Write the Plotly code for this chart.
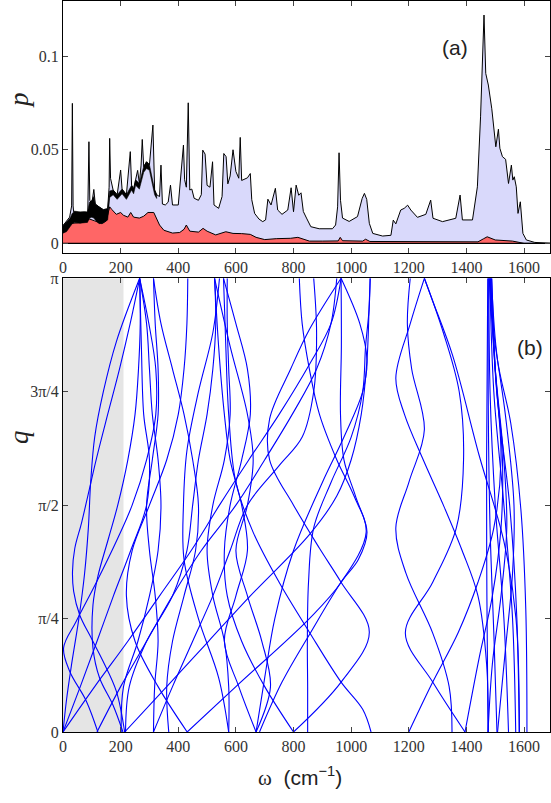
import plotly.graph_objects as go

# ---------------- panel (a): spectrum p(omega) ----------------
w_total = [0, 11, 23, 30, 32.5, 35, 37, 55, 75, 86, 90, 93, 100, 107, 112, 125, 140, 155, 160, 162, 165,
           174, 188, 200, 205, 220, 233.5, 238, 245, 252, 259, 265, 271, 275, 280, 290, 300, 312, 318,
           325, 335, 340, 345, 355, 365, 373, 380, 400, 418, 422, 428, 434.6, 440, 447, 455, 470, 480,
           485, 493, 500, 510, 519, 524, 540, 552, 558, 566, 572, 580, 590, 600, 610, 615, 620, 630,
           640, 650, 655, 665, 680, 693, 703, 711, 722, 737, 745, 760, 780, 791.6, 800, 809, 818,
           826, 834, 845, 860, 889, 935, 946, 953, 958, 963, 970, 993, 1022, 1038, 1046, 1054,
           1063, 1075, 1109, 1138, 1146, 1155, 1172, 1184, 1196, 1207, 1230, 1259, 1276, 1284,
           1317, 1363, 1378, 1386, 1421, 1438, 1449, 1461, 1467, 1476, 1488, 1502, 1511, 1516,
           1525, 1536, 1546, 1556, 1561, 1566, 1573, 1579, 1587, 1596, 1608, 1637, 1690]
p_total = [0.0095, 0.0115, 0.014, 0.02, 0.0748, 0.02, 0.0168, 0.0165, 0.0168, 0.0165, 0.0543, 0.023,
           0.021, 0.0288, 0.021, 0.0195, 0.018, 0.0185, 0.03, 0.0561, 0.0347, 0.0285, 0.026, 0.0392,
           0.029, 0.026, 0.049, 0.0311, 0.029, 0.034, 0.039, 0.032, 0.0418, 0.0555, 0.041, 0.0436,
           0.042, 0.0632, 0.0285, 0.026, 0.025, 0.0418, 0.021, 0.0205, 0.022, 0.0311, 0.0205, 0.0205,
           0.0525, 0.034, 0.03, 0.0751, 0.0285, 0.029, 0.0241, 0.023, 0.026, 0.0498, 0.0477, 0.031,
           0.03, 0.0436, 0.0205, 0.0187, 0.025, 0.048, 0.0463, 0.0318, 0.036, 0.05, 0.0384, 0.0348,
           0.0566, 0.0336, 0.0345, 0.035, 0.0373, 0.0233, 0.016, 0.013, 0.0116, 0.0125, 0.0236,
           0.0205, 0.0294, 0.0178, 0.0155, 0.0178, 0.0297, 0.0169, 0.0311, 0.0257, 0.027, 0.017,
           0.0135, 0.0089, 0.0078, 0.0078, 0.0098, 0.0195, 0.0484, 0.023, 0.0135, 0.0117, 0.0143,
           0.0239, 0.0267, 0.0235, 0.0107, 0.0053, 0.0039, 0.0043, 0.0124, 0.0104, 0.0178, 0.0187,
           0.0204, 0.0178, 0.0139, 0.0155, 0.0231, 0.0134, 0.0116, 0.0134, 0.0258, 0.0125, 0.0125,
           0.0302, 0.0676, 0.122, 0.0908, 0.0846, 0.0719, 0.0516, 0.061, 0.0508, 0.0463, 0.0449,
           0.032, 0.0418, 0.0338, 0.0356, 0.0302, 0.016, 0.0222, 0.0053, 0.0018, 0.0005, 0.0]

# envelope of the rapidly oscillating (black) band at low frequency
w_band = [0, 12, 25, 32, 40, 60, 85, 92, 100, 107, 112, 125, 140, 155, 162, 174, 188, 205, 220,
          238, 245, 252, 265, 280, 290, 300, 318, 325]
p_band_hi = [0.0095, 0.0115, 0.0135, 0.016, 0.0172, 0.0168, 0.0168, 0.022, 0.023, 0.025, 0.021,
             0.0195, 0.018, 0.0185, 0.028, 0.0285, 0.026, 0.029, 0.026, 0.031, 0.029, 0.034, 0.032,
             0.041, 0.0436, 0.042, 0.0285, 0.026]
p_band_lo = [0.0055, 0.0062, 0.009, 0.0105, 0.0112, 0.0108, 0.0112, 0.0135, 0.014, 0.0135, 0.0125,
             0.0105, 0.011, 0.0125, 0.0245, 0.026, 0.0235, 0.0265, 0.0235, 0.0285, 0.0265, 0.031,
             0.029, 0.038, 0.040, 0.039, 0.026, 0.024]

w_red = [0, 28, 60, 92, 110, 135, 150, 162, 170, 185, 200, 210, 225, 235, 245, 265, 280, 295,
         315, 325, 335, 350, 380, 405, 420, 428, 440, 470, 486, 500, 530, 565, 590, 620, 650,
         670, 700, 740, 790, 815, 855, 900, 955, 962, 970, 1040, 1050, 1065, 1200, 1280, 1440,
         1460, 1472, 1500, 1560, 1600, 1690]
p_red = [0.0053, 0.0107, 0.011, 0.013, 0.012, 0.0105, 0.012, 0.0195, 0.018, 0.0155, 0.0165, 0.015,
         0.014, 0.0165, 0.014, 0.0135, 0.0145, 0.0165, 0.0165, 0.013, 0.0098, 0.007, 0.0055, 0.0058,
         0.0075, 0.0098, 0.0065, 0.006, 0.008, 0.0065, 0.0045, 0.0062, 0.0053, 0.0052, 0.0048,
         0.0032, 0.002, 0.0025, 0.0027, 0.0032, 0.0012, 0.0012, 0.0013, 0.0032, 0.0014, 0.0012,
         0.0022, 0.001, 0.0008, 0.0008, 0.0008, 0.0025, 0.0035, 0.0018, 0.0012, 0.0, 0.0]

p_ticks = [0, 0.05, 0.1]
p_ticklabels = ["0", "0.05", "0.1"]
w_ticks = [0, 200, 400, 600, 800, 1000, 1200, 1400, 1600]

# ---------------- panel (b): dispersion branches, (q/pi, omega) knots ----------------
branches = [
    # right cluster
    [(0, 1475), (0.3, 1471), (0.6, 1470), (1, 1474)],
    [(0, 1506), (0.2, 1496), (0.45, 1482), (0.7, 1476), (1, 1476)],
    [(0, 1546), (0.25, 1530), (0.5, 1500), (0.75, 1482), (1, 1478)],
    [(0, 1571), (0.25, 1560), (0.5, 1530), (0.75, 1495), (1, 1481)],
    [(0, 1583), (0.25, 1575), (0.5, 1550), (0.75, 1505), (1, 1484)],
    [(0, 1610), (0.27, 1606), (0.49, 1589), (0.68, 1554), (0.82, 1508), (1, 1487)],
    [(0, 1508), (0.18, 1535), (0.35, 1560), (0.5, 1565), (0.7, 1535), (0.88, 1495), (1, 1482)],
    [(0, 1475), (0.15, 1490), (0.3, 1520), (0.45, 1540), (0.6, 1530), (0.8, 1500), (1, 1479)],
    # 1150-1450 group
    [(0, 1200), (0.11, 1283), (0.22, 1372), (0.33, 1440), (0.45, 1495), (0.6, 1520), (0.8, 1500), (1, 1488)],
    [(0, 1395), (0.11, 1283), (0.218, 1188), (0.33, 1283), (0.45, 1365), (0.6, 1390), (0.75, 1375), (0.88, 1320), (1, 1254)],
    [(0, 1395), (0.163, 1444), (0.3, 1490), (0.45, 1520), (0.6, 1525), (0.8, 1500), (1, 1484)],
    [(1, 1254), (0.95, 1283), (0.83, 1352), (0.61, 1444), (0.42, 1530), (0.25, 1572), (0, 1584)],
    [(1, 1254), (0.9, 1205), (0.78, 1155), (0.7, 1185), (0.6, 1250), (0.5, 1320), (0.4, 1385), (0.3, 1440), (0.15, 1470), (0, 1476)],
    [(1, 1205), (0.9, 1195), (0.8, 1210), (0.666, 1254), (0.552, 1201), (0.45, 1155), (0.35, 1190), (0.218, 1283), (0.1, 1340), (0, 1350)],
    # 950-1070 group
    [(1, 965), (0.85, 966), (0.7, 963), (0.6, 975), (0.52, 1015), (0.44, 1055), (0.38, 1025), (0.33, 965), (0.22, 860), (0.11, 760), (0, 682)],
    [(0, 1069), (0.05, 1040), (0.11, 965), (0.22, 855), (0.33, 750), (0.44, 660), (0.55, 600), (0.7, 575), (0.85, 565), (1, 557)],
    [(0, 800), (0.11, 965), (0.22, 1063), (0.33, 965), (0.405, 890), (0.5, 800), (0.6, 717), (0.69, 717), (0.8, 790), (0.887, 855), (1, 965)],
    [(1, 1066), (0.93, 1062), (0.85, 1050), (0.75, 1040), (0.65, 1000), (0.55, 930), (0.45, 870), (0.33, 852), (0.2, 848), (0.1, 849), (0, 849)],
    [(1, 965), (0.9, 1030), (0.82, 1055), (0.75, 1040), (0.65, 975), (0.55, 900), (0.4, 800), (0.25, 735), (0.12, 700), (0, 670)],
    # long diagonals through the middle
    [(0, 214), (0.1, 360), (0.2, 505), (0.3, 650), (0.435, 855), (0.52, 950), (0.6, 1000), (0.7, 1035), (0.82, 1055), (0.93, 1062), (1, 1066)],
    [(0, 431), (0.1, 600), (0.25, 855), (0.33, 965), (0.44, 1052), (0.52, 1010), (0.6, 950), (0.7, 890), (0.8, 855), (0.9, 830), (1, 820)],
    [(0, 0), (0.1, 110), (0.2, 225), (0.3, 335), (0.4, 445), (0.5, 543), (0.6, 645), (0.7, 750), (0.81, 855), (0.9, 930), (1, 965)],
    [(0, 118), (0.1, 200), (0.2, 290), (0.3, 380), (0.4, 480), (0.5, 600), (0.6, 700), (0.705, 800), (0.8, 880), (0.9, 930), (1, 950)],
    [(0, 314), (0.1, 380), (0.2, 450), (0.3, 520), (0.4, 580), (0.5, 640), (0.587, 750), (0.65, 830), (0.75, 870), (0.88, 880), (1, 870)],
    # left region
    [(0, 214), (0.09, 185), (0.156, 139), (0.207, 98), (0.258, 58), (0.31, 37), (0.354, 33), (0.405, 41),
     (0.46, 64), (0.52, 86), (0.6, 115), (0.7, 155), (0.8, 196), (0.9, 233), (1, 266)],
    [(0, 0), (0.07, 12), (0.15, 30), (0.25, 55), (0.35, 75), (0.45, 88), (0.55, 96), (0.65, 110),
     (0.75, 140), (0.86, 185), (1, 266)],
    [(0, 121), (0.068, 81), (0.134, 23), (0.185, 2), (0.244, 46), (0.33, 116), (0.427, 190), (0.5, 240),
     (0.6, 290), (0.7, 322), (0.8, 322), (0.9, 298), (1, 266)],
    [(0, 208), (0.06, 173), (0.119, 127), (0.185, 104), (0.28, 104), (0.343, 121), (0.427, 158), (0.5, 190),
     (0.6, 225), (0.7, 250), (0.8, 262), (0.9, 268), (1, 266)],
    [(0, 0), (0.1, 60), (0.2, 118), (0.3, 175), (0.4, 235), (0.5, 290), (0.6, 300), (0.7, 280), (0.85, 272), (1, 266)],
    [(0, 431), (0.1, 330), (0.2, 250), (0.3, 220), (0.4, 240), (0.5, 300), (0.6, 360), (0.7, 400), (0.8, 420), (0.9, 430), (1, 433)],
    [(0, 314), (0.1, 318), (0.2, 330), (0.3, 320), (0.4, 300), (0.5, 290), (0.6, 310), (0.7, 330), (0.8, 330), (0.9, 320), (1, 314)],
    [(0, 367), (0.1, 360), (0.2, 380), (0.3, 420), (0.4, 460), (0.5, 470), (0.6, 450), (0.7, 420), (0.8, 380), (0.9, 340), (1, 314)],
    [(0, 575), (0.1, 575), (0.2, 560), (0.3, 520), (0.4, 500), (0.5, 520), (0.6, 560), (0.7, 580), (0.8, 575), (0.9, 570), (1, 570)],
    [(0, 670), (0.1, 610), (0.2, 560), (0.3, 600), (0.4, 640), (0.5, 620), (0.6, 580), (0.7, 560), (0.85, 540), (1, 526)],
    [(0, 670), (0.1, 720), (0.2, 690), (0.3, 640), (0.4, 600), (0.5, 640), (0.6, 660), (0.7, 640), (0.85, 580), (1, 526)],
    [(0, 800), (0.1, 700), (0.2, 620), (0.3, 570), (0.4, 560), (0.5, 580), (0.6, 620), (0.7, 650), (0.8, 640), (0.9, 600), (1, 557)],
    [(0, 202), (0.1, 210), (0.2, 260), (0.3, 300), (0.4, 330), (0.5, 340), (0.6, 330), (0.7, 310), (0.8, 300), (0.9, 290), (1, 266)],
    [(0, 217), (0.1, 230), (0.2, 290), (0.3, 380), (0.4, 430), (0.5, 450), (0.6, 470), (0.7, 500), (0.8, 520), (0.9, 530), (1, 526)],
    [(0, 575), (0.12, 540), (0.25, 470), (0.38, 420), (0.5, 418), (0.62, 430), (0.75, 470), (0.88, 520), (1, 543)],
]

q_ticks = [0, 0.25, 0.5, 0.75, 1]
q_ticklabels = ["0", "π/4", "π/2", "3π/4", "π"]
shade_w = [0, 210]

fig = go.Figure()

# panel (a)
fig.add_trace(go.Scatter(x=w_total, y=p_total, mode="lines", fill="tozeroy",
                         fillcolor="#d9d9fb", line=dict(color="black", width=1),
                         xaxis="x", yaxis="y", hoverinfo="skip"))
fig.add_trace(go.Scatter(x=w_red, y=p_red, mode="lines", fill="tozeroy",
                         fillcolor="#ff6666", line=dict(color="black", width=1),
                         xaxis="x", yaxis="y", hoverinfo="skip"))
fig.add_trace(go.Scatter(x=w_band + w_band[::-1], y=p_band_hi + p_band_lo[::-1], mode="lines",
                         fill="toself", fillcolor="black", line=dict(color="black", width=0.6),
                         xaxis="x", yaxis="y", hoverinfo="skip"))
fig.add_trace(go.Scatter(x=[0, 1690], y=[0, 0], mode="lines",
                         line=dict(color="black", width=1.2), xaxis="x", yaxis="y", hoverinfo="skip"))

# panel (b)
for br in branches:
    qs = [k[0] for k in br]
    ws = [k[1] for k in br]
    fig.add_trace(go.Scatter(x=ws, y=qs, mode="lines",
                             line=dict(color="#0000ff", width=1.1, shape="spline", smoothing=1.0),
                             xaxis="x2", yaxis="y2", hoverinfo="skip"))

fig.add_shape(type="rect", xref="x2", yref="y2", x0=shade_w[0], x1=shade_w[1], y0=0, y1=1,
              fillcolor="#e5e5e5", line=dict(width=0), layer="below")

tickfont = dict(family="Liberation Serif", size=16, color="#333333")
axis_common = dict(showline=True, mirror="ticks", linecolor="black", linewidth=1.2,
                   ticks="inside", ticklen=5, tickcolor="#444444", showgrid=False,
                   zeroline=False, tickfont=tickfont)

L, R, T, B = 63, 1, 1, 71
W, H = 551 - L - R, 803 - T - B


def px2paper(px, py):
    return (px - L) / W, (803 - B - py) / H


ax, ay = px2paper(455, 47)
bx, by = px2paper(530, 347)
tx, ty = px2paper(300, 776)
pxl, pyl = px2paper(19, 100)
qxl, qyl = px2paper(19, 437)

ann = dict(xref="paper", yref="paper", showarrow=False, xanchor="center", yanchor="middle")
fig.update_layout(
    width=551, height=803, margin=dict(l=L, r=R, t=T, b=B, autoexpand=False),
    paper_bgcolor="white", plot_bgcolor="white", showlegend=False,
    xaxis=dict(domain=[0, 1], range=[0, 1690], anchor="y", tickvals=w_ticks, **axis_common),
    yaxis=dict(domain=[px2paper(0, 252.7)[1], 1], range=[-0.005, 0.1295], anchor="x",
               tickvals=p_ticks, ticktext=p_ticklabels, **axis_common),
    xaxis2=dict(domain=[0, 1], range=[0, 1690], anchor="y2", tickvals=w_ticks, **axis_common),
    yaxis2=dict(domain=[0, px2paper(0, 278.3)[1]], range=[0, 1], anchor="x2",
                tickvals=q_ticks, ticktext=q_ticklabels, **axis_common),
    annotations=[
        dict(text="(a)", x=ax, y=ay, font=dict(family="Liberation Sans", size=21, color="#222222"), **ann),
        dict(text="(b)", x=bx, y=by, font=dict(family="Liberation Sans", size=21, color="#222222"), **ann),
        dict(text="<span style='font-family:Liberation Serif'>ω</span>  (cm<sup>−1</sup>)", x=tx, y=ty,
             font=dict(family="Liberation Sans", size=21, color="#222222"), **ann),
        dict(text="<i>p</i>", x=pxl, y=pyl, textangle=-90,
             font=dict(family="Liberation Serif", size=27, color="#222222"), **ann),
        dict(text="<i>q</i>", x=qxl, y=qyl, textangle=-90,
             font=dict(family="Liberation Serif", size=27, color="#222222"), **ann),
    ],
)

fig.write_html("out.html", config={"displayModeBar": False},
               post_script="document.body.style.margin='0';document.body.style.overflow='hidden';")
